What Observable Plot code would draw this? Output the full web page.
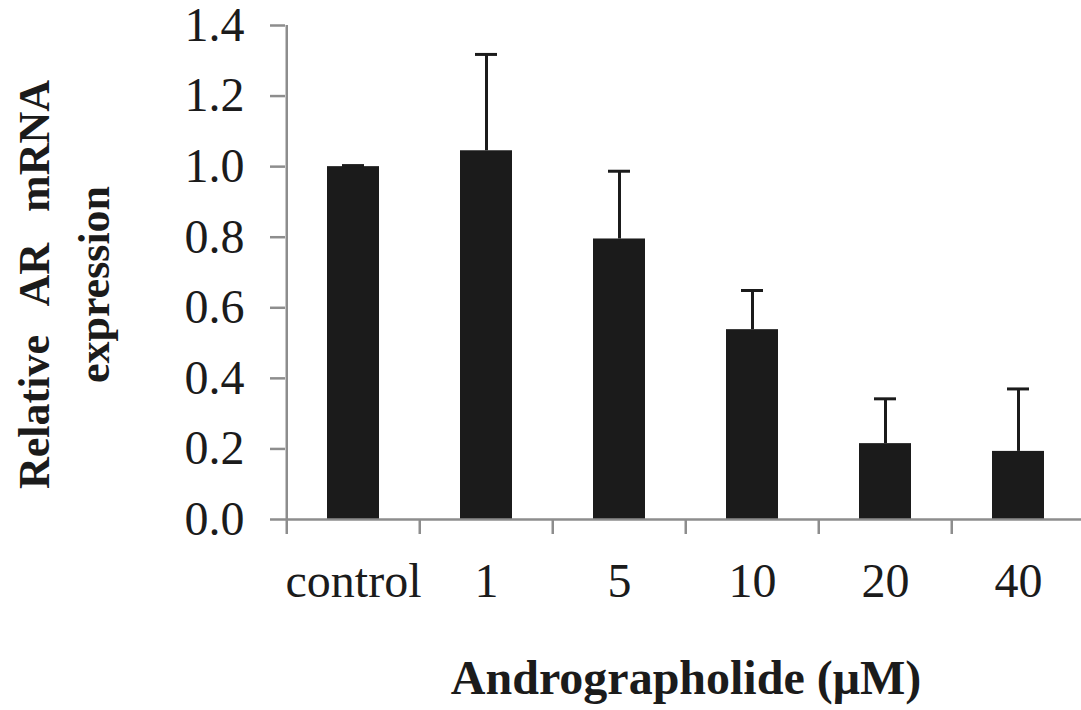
<!DOCTYPE html>
<html><head><meta charset="utf-8">
<script src="https://cdn.jsdelivr.net/npm/d3@7"></script>
<script src="https://cdn.jsdelivr.net/npm/@observablehq/plot@0.6"></script>
<style>html,body{margin:0;padding:0;background:#fff}</style>
</head><body><div id="chart"></div>
<script>
const categories = ["control", "1", "5", "10", "20", "40"];
const means = [1.0, 1.045, 0.795, 0.538, 0.215, 0.193];
const upper = [1.003, 1.318, 0.987, 0.649, 0.342, 0.370];
const yTicks = [0, 0.2, 0.4, 0.6, 0.8, 1.0, 1.2, 1.4];
const yTitle = "Relative AR mRNA\nexpression";
const xTitle = "Andrographolide (μM)";

const data = categories.map((c, i) => ({dose: c, mean: means[i], upper: upper[i]}));

const W = 1081, H = 710;
const mL = 285, mR = -5, mT = 25, mB = 191;
const step = (W - mL - mR) / categories.length;
const axisGray = "#8d8d8d";
const ink = "#1b1b1b";
const serif = "'Liberation Serif', 'Times New Roman', serif";

const chart = Plot.plot({
  width: W, height: H,
  marginLeft: mL, marginRight: mR, marginTop: mT, marginBottom: mB,
  style: {fontFamily: serif, background: "#fff", overflow: "visible"},
  x: {type: "band", domain: categories, paddingInner: 0.61, paddingOuter: 0.305, axis: null},
  y: {domain: [0, 1.4], axis: null},
  marks: [
    Plot.barY(data, {x: "dose", y: "mean", fill: ink}),
    Plot.ruleX(data, {x: "dose", y1: "mean", y2: "upper", stroke: ink, strokeWidth: 3}),
    Plot.tickY(data, {x: "dose", y: "upper", stroke: ink, strokeWidth: 3, insetLeft: 15, insetRight: 15}),
    Plot.ruleY([0], {stroke: axisGray, strokeWidth: 2.5}),
    Plot.ruleX(categories.slice(0, 1), {x: d => d, y1: 0, y2: 1.4, dx: -step / 2, stroke: axisGray, strokeWidth: 2.5}),
    Plot.axisY({ticks: yTicks, tickSize: 15, tickPadding: 26, tickFormat: d3.format(".1f"),
      fontSize: 48, stroke: axisGray, strokeWidth: 2.5, fill: ink, label: null}),
    Plot.axisX({tickSize: 15, tickFormat: () => "", dx: -step / 2, stroke: axisGray, strokeWidth: 2.5, label: null}),
    Plot.axisX({tickSize: 0, tickPadding: 43, fontSize: 48, fill: ink, label: null}),
    Plot.text([xTitle], {text: d => d, frameAnchor: "bottom", dy: 174, fontSize: 48, fontWeight: "bold", fill: ink}),
    Plot.text([yTitle], {text: d => d, frameAnchor: "left", textAnchor: "middle", rotate: -90, dx: -226, dy: 12,
      lineHeight: 1.36, fontSize: 44, fontWeight: "bold", fill: ink})
  ]
});
chart.querySelectorAll("text").forEach(t => {
  if (t.textContent.startsWith("Relative")) t.style.wordSpacing = "20px";
});
document.getElementById("chart").appendChild(chart);
</script>
</body></html>
